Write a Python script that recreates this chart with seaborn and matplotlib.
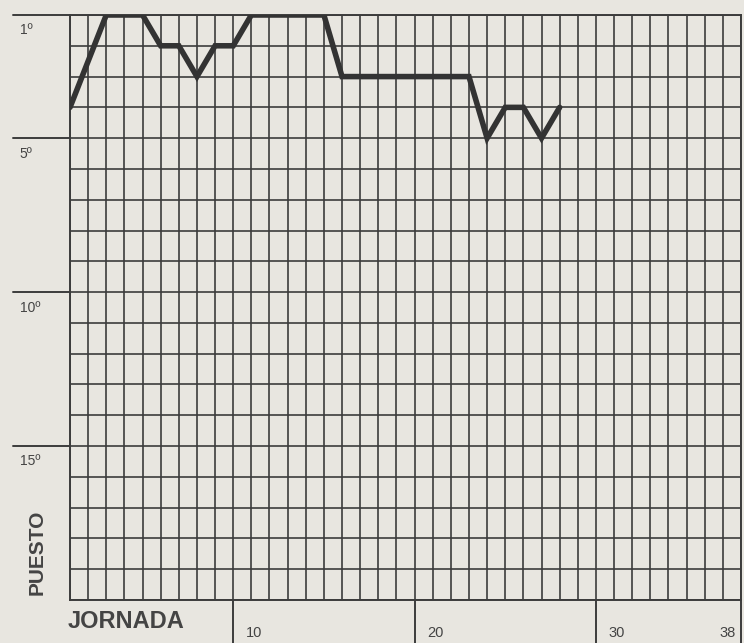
import matplotlib
matplotlib.use("Agg")
import matplotlib.pyplot as plt
import seaborn as sns

# jornada -> puesto (jornada 2 not drawn in the original)
jornadas = [1, 3, 4, 5, 6, 7, 8, 9, 10, 11, 12, 13, 14, 15, 16, 17, 18, 19, 20, 21, 22, 23, 24, 25, 26, 27, 28]
puestos = [4, 1, 1, 1, 2, 2, 3, 2, 2, 1, 1, 1, 1, 1, 3, 3, 3, 3, 3, 3, 3, 3, 5, 4, 4, 5, 4]

puesto_labels = ["1º", "5º", "10º", "15º"]
puesto_marks = [1, 5, 10, 15]
jornada_labels = ["10", "20", "30"]
jornada_marks = [10, 20, 30]

paper = "#e8e6e0"
ink = "#3c3c3c"

sns.set_theme(style="white")
plt.rcParams["font.family"] = ["Liberation Sans Narrow", "Liberation Sans", "DejaVu Sans"]

fig = plt.figure(figsize=(7.44, 6.43), dpi=100, facecolor=paper)
W, H = 744, 643
ax = fig.add_axes([70 / W, (H - 600) / H, (741 - 70) / W, (600 - 15) / H])
ax.set_facecolor(paper)

sns.lineplot(x=jornadas, y=puestos, ax=ax, color="#333333", linewidth=4,
             solid_joinstyle="miter", zorder=5)

ax.set_xlim(1, 38)
ax.set_ylim(20, 1)
ax.set_xticks(range(1, 39))
ax.set_yticks(range(1, 21))
ax.set_xticklabels([])
ax.set_yticklabels([])
ax.tick_params(length=0)
ax.grid(True, color=ink, linewidth=1.2)
for s in ax.spines.values():
    s.set_color(ink)
    s.set_linewidth(1.4)
ax.set_xlabel("")
ax.set_ylabel("")

# marks extending left of the grid, labels under them
x_out = -(70 - 13) / (741 - 70)
ytr = ax.get_yaxis_transform()
for p, lab in zip(puesto_marks, puesto_labels):
    ax.plot([x_out, 0], [p, p], transform=ytr, color=ink, linewidth=1.4, clip_on=False)
    ax.text(x_out + 0.01, p + 0.5, lab, transform=ytr, ha="left", va="center",
            fontsize=10, color="#444444")

# separators under the grid
y_out = -(643 - 600) / (600 - 15)
xtr = ax.get_xaxis_transform()
for j, lab in zip(jornada_marks, jornada_labels):
    ax.plot([j, j], [0, y_out], transform=xtr, color=ink, linewidth=1.4, clip_on=False)
    ax.text(j + 0.7, y_out + 0.005, lab, transform=xtr, ha="left", va="bottom",
            fontsize=10.5, color="#444444")
ax.plot([38, 38], [0, y_out], transform=xtr, color=ink, linewidth=1.4, clip_on=False)
ax.text(37.7, y_out + 0.005, "38", transform=xtr, ha="right", va="bottom",
        fontsize=10.5, color="#444444")

fig.text(68 / W, 1 - 622 / H, "JORNADA", ha="left", va="center",
         fontsize=17, fontweight="bold", color="#444444")
fig.text(37 / W, 1 - 552 / H, "PUESTO", ha="center", va="center", rotation=90,
         fontsize=15, fontweight="bold", color="#444444")

fig.savefig("out.png", dpi=100, facecolor=paper)
